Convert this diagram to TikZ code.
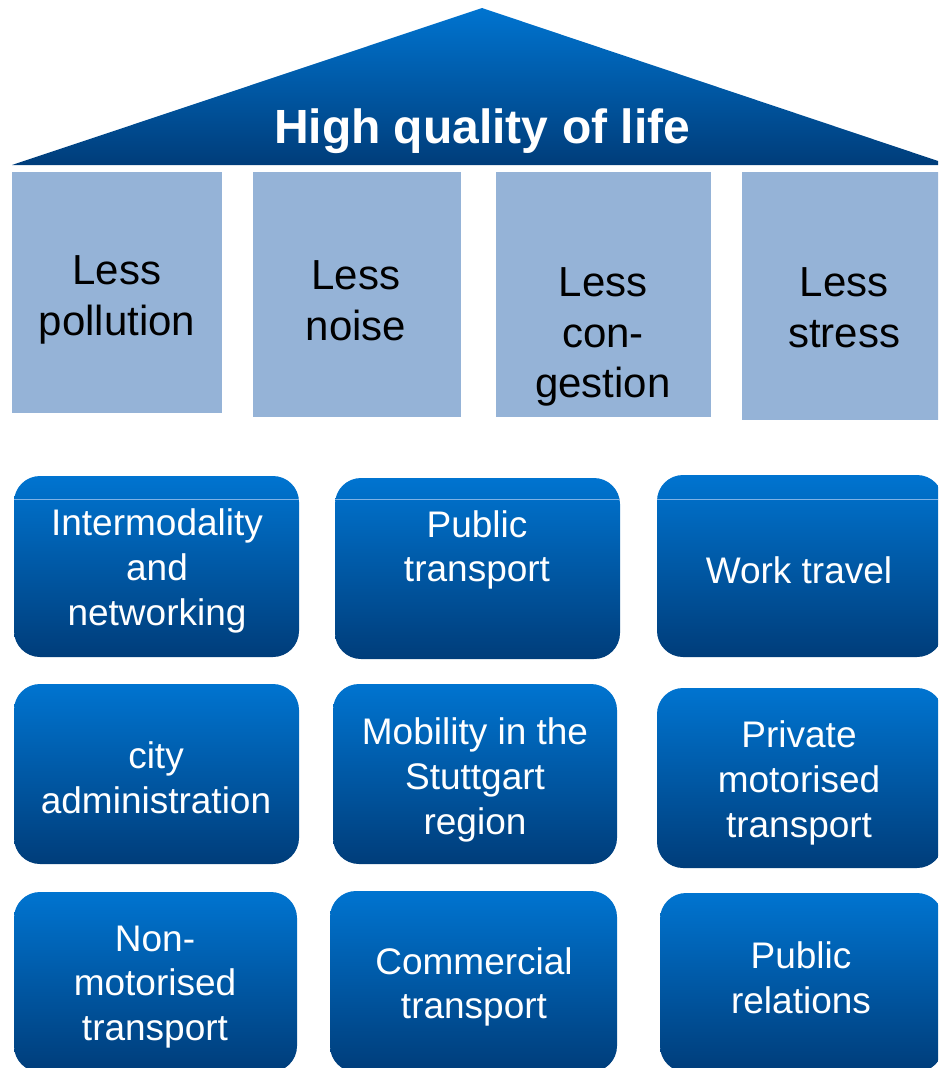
\documentclass[tikz,border=0pt]{standalone}
\usepackage{fontspec}
\setmainfont{Liberation Sans}
\definecolor{topblue}{HTML}{0074D0}
\definecolor{botblue}{HTML}{003D7A}
\definecolor{pale}{HTML}{95B3D7}
\definecolor{hiline}{HTML}{7FB2E5}
\begin{document}
\begin{tikzpicture}[x=1pt,y=-1pt,
  palebox/.style={fill=pale, draw=none, inner sep=0pt},
  bluebox/.style={shading=axis, top color=topblue, bottom color=botblue, draw=none, rounded corners=26pt, inner sep=0pt},
  paletext/.style={align=center, text=black, font=\fontsize{42}{50.5}\selectfont},
  bluetext/.style={align=center, text=white, font=\fontsize{37}{44.8}\selectfont},
  hl/.style={draw=hiline, line width=0.8pt}]
\useasboundingbox (0,0) rectangle (938,1068);
\clip (0,0) rectangle (938,1068);
% roof
\coordinate (apex) at (482,8);
\coordinate (bl) at (12,165);
\coordinate (br) at (950,165);
\shade[top color=topblue, bottom color=botblue] (apex) -- (br) -- (bl) -- cycle;
\node[text=white, font=\fontsize{48}{56}\bfseries] (title) at (482,131) {High quality of life};
% pale boxes
\path[palebox] (12,172) rectangle (222,413);
\path[palebox] (253,172) rectangle (461,417);
\path[palebox] (496,172) rectangle (711,417);
\path[palebox] (742,172) rectangle (945,420);
\node[paletext] (p1) at (117,300) {Less\\pollution};
\node[paletext] (p2) at (356,301) {Less\\noise};
\node[paletext] (p3) at (603,337) {Less\\con-\\gestion};
\node[paletext] (p4) at (844,308) {Less\\stress};
% blue boxes row 1
\path[bluebox] (14,476) rectangle (299,657);
\path[bluebox] (335,478) rectangle (620,659);
\path[bluebox] (657,475) rectangle (943,657);
\draw[hl] (14,499) -- (299,499);
\draw[hl] (335,499) -- (620,499);
\draw[hl] (657,499) -- (938,499);
\node[bluetext] (b1) at (157,571) {Intermodality\\and\\networking};
\node[bluetext] (b2) at (477,550) {Public\\transport};
\node[bluetext] (b3) at (799,570) {Work travel};
% row 2
\path[bluebox] (14,684) rectangle (299,864);
\path[bluebox] (333,684) rectangle (617,864);
\path[bluebox] (657,688) rectangle (943,868);
\node[bluetext] (b4) at (156,778) {city\\administration};
\node[bluetext] (b5) at (475,780) {Mobility in the\\Stuttgart\\region};
\node[bluetext] (b6) at (799,783) {Private\\motorised\\transport};
% row 3
\path[bluebox] (14,892) rectangle (297,1072);
\path[bluebox] (330,891) rectangle (617,1072);
\path[bluebox] (660,893) rectangle (943,1072);
\node[bluetext] (b7) at (155,987) {Non-\\motorised\\transport};
\node[bluetext] (b8) at (474,987) {Commercial\\transport};
\node[bluetext] (b9) at (801,978) {Public\\relations};
\end{tikzpicture}
\end{document}
